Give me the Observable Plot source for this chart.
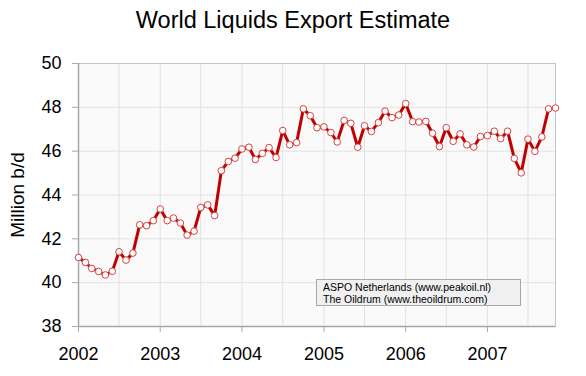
<!DOCTYPE html>
<html>
<head>
<meta charset="utf-8">
<script src="https://cdn.jsdelivr.net/npm/d3@7"></script>
<script src="https://cdn.jsdelivr.net/npm/@observablehq/plot@0.6"></script>
<style>
  html, body { margin: 0; padding: 0; background: #fff; }
  #wrap { position: relative; width: 586px; height: 376px; font-family: "Liberation Sans", Arial, sans-serif; }
  #title { position: absolute; left: 0; top: 7px; width: 586px; text-align: center; font-size: 23.5px; color: #000; }
  #note { position: absolute; left: 316px; top: 279px; width: 205px; height: 27px; background: #f0f0f0; border: 1px solid #a8a8a8;
          font-size: 10.5px; line-height: 11.5px; padding: 2px 0 0 6px; box-sizing: border-box; color: #000; }
</style>
</head>
<body>
<div id="wrap">
  <div id="chart"></div>
  <div id="title">World Liquids Export Estimate</div>
  <div id="note">ASPO Netherlands (www.peakoil.nl)<br>The Oildrum (www.theoildrum.com)</div>
</div>
<script>
const titleText = "World Liquids Export Estimate";
const yLabel = "Million b/d";
const startYear = 2002;
const startMonth = 0; // January
const exportsMbd = [
  41.15, 40.92, 40.65, 40.51, 40.35, 40.52, 41.41, 41.03, 41.35, 42.64, 42.60, 42.83,
  43.36, 42.83, 42.95, 42.72, 42.17, 42.35, 43.43, 43.55, 43.06, 45.11, 45.53, 45.68,
  46.10, 46.18, 45.62, 45.90, 46.16, 45.71, 46.94, 46.29, 46.39, 47.93, 47.62, 47.07,
  47.11, 46.85, 46.42, 47.40, 47.27, 46.18, 47.16, 46.90, 47.30, 47.83, 47.53, 47.65,
  48.17, 47.35, 47.33, 47.36, 46.82, 46.21, 47.07, 46.45, 46.79, 46.29, 46.19, 46.67,
  46.71, 46.91, 46.57, 46.91, 45.67, 45.01, 46.55, 45.99, 46.65, 47.93, 47.97
];
const yearTicks = [2002, 2003, 2004, 2005, 2006, 2007];
const yTicks = [38, 40, 42, 44, 46, 48, 50];

const start = new Date(Date.UTC(startYear, startMonth, 1));
const data = exportsMbd.map((v, i) => ({date: d3.utcMonth.offset(start, i), value: v}));
const xDomain = [data[0].date, data[data.length - 1].date];
const yearDates = yearTicks.map(y => new Date(Date.UTC(y, 0, 1)));
const halfYearDates = yearTicks.flatMap(y => [new Date(Date.UTC(y, 0, 1)), new Date(Date.UTC(y, 6, 1))])
  .filter(d => d >= xDomain[0] && d <= xDomain[1]);

const chart = Plot.plot({
  width: 586,
  height: 376,
  marginLeft: 78,
  marginRight: 31,
  marginTop: 63,
  marginBottom: 50,
  style: {fontFamily: "'Liberation Sans', Arial, sans-serif", background: "transparent", color: "#000"},
  x: {type: "utc", domain: xDomain},
  y: {domain: [38, 50]},
  marks: [
    Plot.frame({fill: "#fafafa", stroke: null}),
    Plot.gridX(halfYearDates, {stroke: "#e2e2e2", strokeOpacity: 1, strokeWidth: 1}),
    Plot.gridY(yTicks, {stroke: "#e2e2e2", strokeOpacity: 1, strokeWidth: 1}),
    Plot.frame({stroke: "#c4c4c4", strokeWidth: 1}),
    Plot.axisY(yTicks, {tickSize: 6, tickPadding: 11, fontSize: 18, stroke: "#a8a8a8", fill: "#000", label: null}),
    Plot.axisX(yearDates, {tickSize: 6, tickPadding: 15, fontSize: 18, tickFormat: "%Y", stroke: "#a8a8a8", fill: "#000", label: null}),
    Plot.ruleX([xDomain[0]], {stroke: "#a8a8a8", strokeWidth: 1.5}),
    Plot.ruleY([38], {stroke: "#a8a8a8", strokeWidth: 1.5}),
    Plot.text([yLabel], {frameAnchor: "left", dx: -61, rotate: -90, fontSize: 19, fill: "#000", textAnchor: "middle", lineAnchor: "middle"}),
    Plot.lineY(data, {x: "date", y: "value", stroke: "#c00000", strokeWidth: 3, strokeLinejoin: "round"}),
    Plot.dot(data, {x: "date", y: "value", r: 3.3, fill: "#fff", stroke: "#d84040", strokeWidth: 1})
  ]
});
document.getElementById("chart").appendChild(chart);
document.getElementById("title").textContent = titleText;
</script>
</body>
</html>
